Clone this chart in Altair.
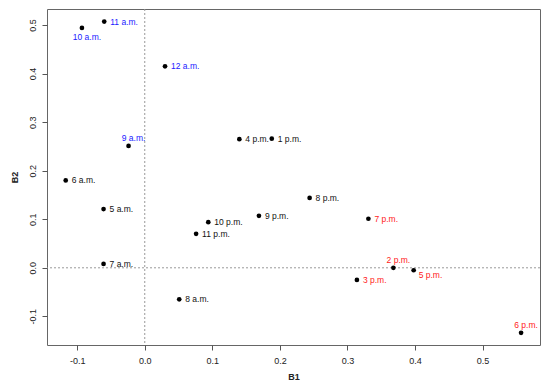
import altair as alt
import pandas as pd

labels = ["5 a.m.", "6 a.m.", "7 a.m.", "8 a.m.", "9 a.m.", "10 a.m.", "11 a.m.", "12 a.m.",
          "1 p.m.", "2 p.m.", "3 p.m.", "4 p.m.", "5 p.m.", "6 p.m.", "7 p.m.", "8 p.m.",
          "9 p.m.", "10 p.m.", "11 p.m."]
b1 = [-0.061, -0.117, -0.061, 0.051, -0.024, -0.093, -0.060, 0.030,
      0.188, 0.368, 0.314, 0.140, 0.398, 0.557, 0.331, 0.244,
      0.169, 0.094, 0.076]
b2 = [0.121, 0.180, 0.008, -0.065, 0.251, 0.494, 0.507, 0.415,
      0.266, 0.000, -0.025, 0.265, -0.005, -0.134, 0.101, 0.144,
      0.107, 0.094, 0.070]
group = ["other", "other", "other", "other", "morning", "morning", "morning", "morning",
         "other", "afternoon", "afternoon", "other", "afternoon", "afternoon", "afternoon", "other",
         "other", "other", "other"]

labels_below = ["10 a.m."]
labels_above = ["9 a.m.", "2 p.m.", "6 p.m."]
labels_below_right = ["5 p.m."]

ticks = [-0.1, 0.0, 0.1, 0.2, 0.3, 0.4, 0.5]

df = pd.DataFrame({"label": labels, "B1": b1, "B2": b2, "group": group})

FONT = "Liberation Sans"
x_enc = alt.X("B1:Q", scale=alt.Scale(domain=[-0.1447, 0.585], nice=False, zero=False),
              axis=alt.Axis(values=ticks, title="B1"))
y_enc = alt.Y("B2:Q", scale=alt.Scale(domain=[-0.159, 0.533], nice=False, zero=False),
              axis=alt.Axis(values=ticks, title="B2", labelAngle=-90, labelAlign="center",
                            labelBaseline="bottom", labelPadding=5, titlePadding=9))
color_enc = alt.Color("group:N", legend=None,
                      scale=alt.Scale(domain=["morning", "afternoon", "other"],
                                      range=["#1a1aff", "#ff1a1a", "#111111"]))

base = alt.Chart(df)

vline = alt.Chart(pd.DataFrame({"v": [0.0]})).mark_rule(
    color="#999999", strokeDash=[2, 2], strokeWidth=1).encode(x="v:Q")
hline = alt.Chart(pd.DataFrame({"v": [0.0]})).mark_rule(
    color="#999999", strokeDash=[2, 2], strokeWidth=1).encode(y="v:Q")

pts = base.mark_circle(size=22, color="black", opacity=1).encode(x=x_enc, y=y_enc)

special = labels_below + labels_above + labels_below_right
txt_kw = dict(font=FONT, fontSize=8.5)
t_right = base.transform_filter(
    ~alt.FieldOneOfPredicate(field="label", oneOf=special)
).mark_text(align="left", baseline="middle", dx=6, dy=0, **txt_kw).encode(
    x="B1:Q", y="B2:Q", text="label:N", color=color_enc)
t_below = base.transform_filter(
    alt.FieldOneOfPredicate(field="label", oneOf=labels_below)
).mark_text(align="center", baseline="middle", dx=5, dy=9, **txt_kw).encode(
    x="B1:Q", y="B2:Q", text="label:N", color=color_enc)
t_above = base.transform_filter(
    alt.FieldOneOfPredicate(field="label", oneOf=labels_above)
).mark_text(align="center", baseline="middle", dx=5, dy=-8, **txt_kw).encode(
    x="B1:Q", y="B2:Q", text="label:N", color=color_enc)
t_br = base.transform_filter(
    alt.FieldOneOfPredicate(field="label", oneOf=labels_below_right)
).mark_text(align="left", baseline="middle", dx=5, dy=5, **txt_kw).encode(
    x="B1:Q", y="B2:Q", text="label:N", color=color_enc)

chart = alt.layer(vline, hline, pts, t_right, t_below, t_above, t_br).properties(
    width=493, height=336,
    autosize=alt.AutoSizeParams(type="none"),
    padding={"left": 39, "top": 1, "right": 2, "bottom": 38},
).configure_view(
    stroke="#666666", strokeWidth=1
).configure_axis(
    grid=False, domain=False, tickSize=5, tickColor="#555555", tickWidth=1,
    labelFont=FONT, labelFontSize=9, labelColor="#222222",
    titleFont=FONT, titleFontSize=9, titleFontWeight="bold", titleColor="#222222",
    labelExpr="replace(format(datum.value, '.1f'), '\u2212', '-')",
).configure_axisX(labelPadding=6, titlePadding=7)

chart.save("out.html", embed_options={"renderer": "svg", "actions": False})
